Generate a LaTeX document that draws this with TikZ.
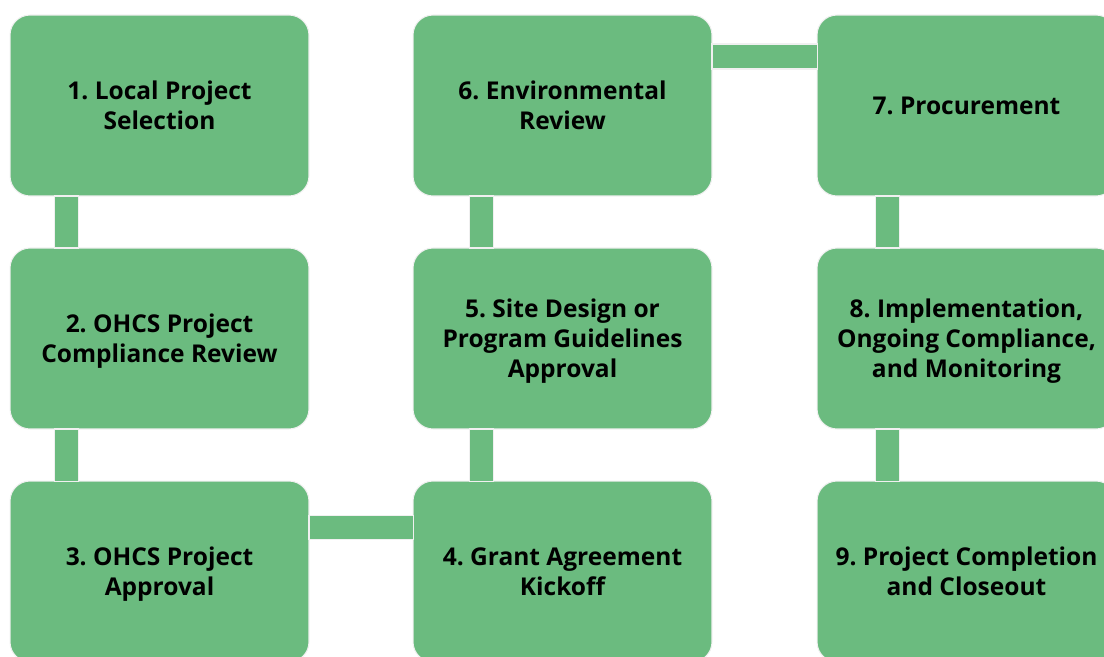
\documentclass[tikz,border=0pt]{standalone}
\usepackage{fontspec}
\setmainfont{Open Sans}
\usetikzlibrary{calc}
\definecolor{stepgreen}{RGB}{107,187,127}
\frenchspacing

\begin{document}
\begin{tikzpicture}[x=0.02cm, y=-0.02cm,
    stepbox/.style={rectangle, rounded corners=0.4cm, fill=stepgreen, draw=gray!12,
        line width=0.6pt, minimum width=5.98cm, minimum height=3.62cm, inner sep=0pt,
        outer sep=0pt, text depth=0pt, align=center,
        font=\fontsize{13.95}{17.1}\selectfont\bfseries},
    bar/.style={fill=stepgreen, draw=gray!12, line width=0.6pt}]
    \useasboundingbox (0,0) rectangle (1104,656);
    \clip (0,0) rectangle (1104,656);

    % Draw the steps, column by column
    \node[stepbox] (one)   at (159.5,105.5) {1. Local Project\\Selection};
    \node[stepbox] (two)   at (159.5,338.5) {2. OHCS Project\\Compliance Review};
    \node[stepbox] (three) at (159.5,571.5) {3. OHCS Project\\Approval};
    \node[stepbox] (four)  at (562.5,571.5) {4. Grant Agreement\\Kickoff};
    \node[stepbox] (five)  at (562.5,338.5) {5. Site Design or\\Program Guidelines\\Approval};
    \node[stepbox] (six)   at (562.5,105.5) {6. Environmental\\Review};
    \node[stepbox] (seven) at (966.5,105.5) {7. Procurement};
    \node[stepbox] (eight) at (966.5,338.5) {8. Implementation,\\Ongoing Compliance,\\and Monitoring};
    \node[stepbox] (nine)  at (966.5,571.5) {9. Project Completion\\and Closeout};

    % Draw the bars between the steps
    \filldraw[bar] ($(one.south west)+(44,0)$) rectangle ($(two.north west)+(68,0)$);
    \filldraw[bar] ($(two.south west)+(44,0)$) rectangle ($(three.north west)+(68,0)$);
    \filldraw[bar] ($(three.north east)+(0,34)$) rectangle ($(four.north west)+(0,58)$);
    \filldraw[bar] ($(five.south west)+(56,0)$) rectangle ($(four.north west)+(80,0)$);
    \filldraw[bar] ($(six.south west)+(56,0)$) rectangle ($(five.north west)+(80,0)$);
    \filldraw[bar] ($(six.north east)+(0,29)$) rectangle ($(seven.north west)+(0,54)$);
    \filldraw[bar] ($(seven.south west)+(58,0)$) rectangle ($(eight.north west)+(82,0)$);
    \filldraw[bar] ($(eight.south west)+(58,0)$) rectangle ($(nine.north west)+(82,0)$);

\end{tikzpicture}
\end{document}
